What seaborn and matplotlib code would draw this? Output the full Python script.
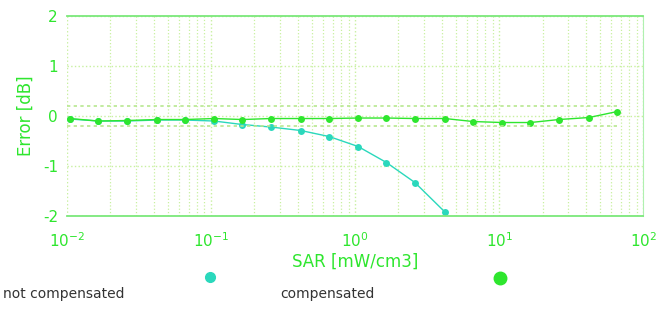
import pandas as pd
import matplotlib.pyplot as plt
import seaborn as sns
from matplotlib.lines import Line2D

# SAR values (mW/cm3) and error readings (dB)
sar = [0.0105, 0.0165, 0.026, 0.042, 0.066, 0.105, 0.165, 0.26, 0.42, 0.66,
       1.05, 1.65, 2.6, 4.2, 6.6, 10.5, 16.5, 26, 42, 66]
err_comp = [-0.05, -0.10, -0.09, -0.07, -0.07, -0.05, -0.07, -0.05, -0.05, -0.05,
            -0.04, -0.04, -0.05, -0.05, -0.11, -0.13, -0.13, -0.07, -0.03, 0.09]
sar_nc = [0.0105, 0.0165, 0.026, 0.042, 0.066, 0.105, 0.165, 0.26, 0.42, 0.66,
          1.05, 1.65, 2.6, 4.2]
err_nc = [-0.06, -0.10, -0.10, -0.08, -0.08, -0.10, -0.17, -0.22, -0.29, -0.41,
          -0.61, -0.93, -1.33, -1.92]
y_ticks = [-2, -1, 0, 1, 2]
x_ticks = [0.01, 0.1, 1, 10, 100]
x_labels = ['$10^{-2}$', '$10^{-1}$', '$10^{0}$', '$10^{1}$', '$10^{2}$']
limit = 0.2

green = '#2ee62e'
cyan = '#2ad8bc'
gridc = '#c8f0a0'

df = pd.concat([
    pd.DataFrame({'SAR': sar_nc, 'Error': err_nc, 'series': 'not compensated'}),
    pd.DataFrame({'SAR': sar, 'Error': err_comp, 'series': 'compensated'}),
])

sns.set_style('white')
plt.rcParams['axes.unicode_minus'] = False
fig = plt.figure(figsize=(6.7, 3.09), dpi=100)
ax = fig.add_axes([0.1, 0.301, 0.86, 0.647])

sns.lineplot(data=df, x='SAR', y='Error', hue='series', marker='o',
             palette={'not compensated': cyan, 'compensated': green},
             markersize=5, markeredgewidth=0, linewidth=1.0, legend=False, ax=ax)
ax.set_xscale('log')
ax.set_xlim(0.01, 100)
ax.set_ylim(-2, 2)

# tolerance band
ax.hlines([limit, -limit], 0.01, 66, colors='#b8e890', linestyles=(0, (2, 2)), linewidth=1.2)

ax.grid(True, which='major', color=gridc, linestyle=':', linewidth=1.0)
ax.grid(True, which='minor', axis='x', color=gridc, linestyle=':', linewidth=0.9)
ax.set_yticks(y_ticks)
ax.set_yticks([-1.5, -0.5, 0.5, 1.5], minor=True)
ax.set_xticks(x_ticks)
ax.set_xticklabels(x_labels)
ax.tick_params(axis='both', colors=green, labelsize=11, length=3)
ax.tick_params(axis='y', which='minor', colors='#cfeecf', length=3)
ax.tick_params(axis='x', pad=8)
for s in ['top', 'bottom']:
    ax.spines[s].set_color('#7be87b')
    ax.spines[s].set_linewidth(1.3)
ax.spines['left'].set_visible(False)
ax.spines['right'].set_color('#b0f0b0')

ax.set_xlabel('SAR [mW/cm3]', color=green, fontsize=12, labelpad=2)
ax.set_ylabel('Error [dB]', color=green, fontsize=12, labelpad=6)

# legend row at the bottom
fig.add_artist(Line2D([0.313], [0.105], marker='o', color=cyan, markersize=7, lw=0))
fig.add_artist(Line2D([0.746], [0.10], marker='o', color=green, markersize=9, lw=0))
fig.text(0.004, 0.035, 'not compensated', ha='left', fontsize=10, color='#333333')
fig.text(0.418, 0.035, 'compensated', ha='left', fontsize=10, color='#333333')

fig.savefig('out.png', dpi=100)
